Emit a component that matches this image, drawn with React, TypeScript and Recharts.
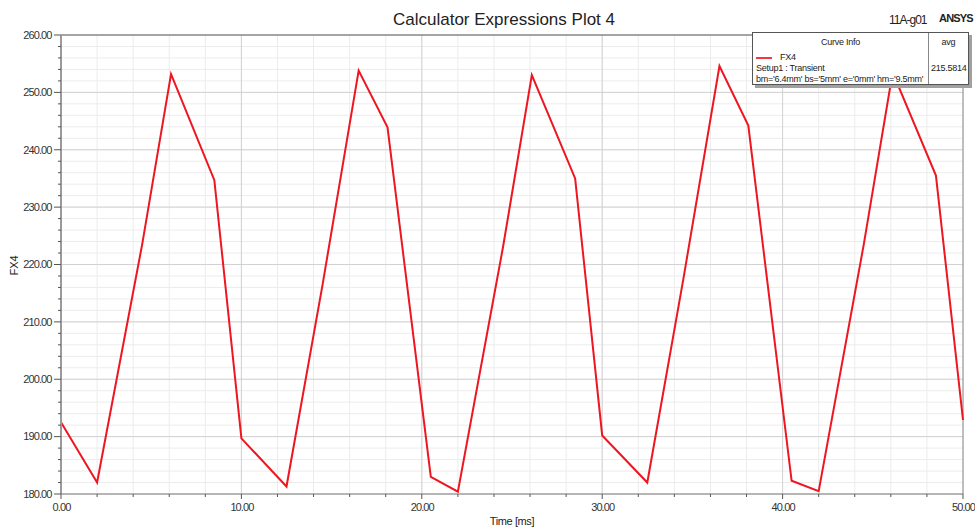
import { LineChart, Line, XAxis, YAxis, CartesianGrid } from 'recharts'

// Time samples [ms] and FX4 values
const timeMs = [
  0, 2.0, 4.5, 6.1, 8.5, 10.0, 12.5, 14.5, 16.5, 18.1, 20.5, 22.0, 24.5, 26.1,
  28.5, 30.0, 32.5, 34.5, 36.5, 38.1, 40.5, 42.0, 44.5, 46.1, 48.5, 50.0,
]
const fx4 = [
  192.5, 182.0, 223.5, 253.2, 234.7, 189.7, 181.3, 216.5, 253.8, 243.9, 183.0,
  180.4, 223.0, 253.0, 235.0, 190.2, 182.0, 217.5, 254.6, 244.2, 182.3, 180.5,
  223.5, 253.5, 235.5, 192.9,
]

const xTicks = [0, 2, 4, 6, 8, 10, 12, 14, 16, 18, 20, 22, 24, 26, 28, 30, 32, 34, 36, 38, 40, 42, 44, 46, 48, 50]
const yTicks = [
  180, 182, 184, 186, 188, 190, 192, 194, 196, 198, 200, 202, 204, 206, 208, 210,
  212, 214, 216, 218, 220, 222, 224, 226, 228, 230, 232, 234, 236, 238, 240, 242,
  244, 246, 248, 250, 252, 254, 256, 258, 260,
]
const xMajor = [10, 20, 30, 40]
const yMajor = [190, 200, 210, 220, 230, 240, 250]

const curveName = 'FX4'
const setupName = 'Setup1 : Transient'
const variation = "bm='6.4mm' bs='5mm' e='0mm' hm='9.5mm'"
const avgValue = '215.5814'

const data = timeMs.map((t, i) => ({ t, v: fx4[i] }))

const FONT = '"Liberation Sans", Arial, sans-serif'
const RED = '#ee1620'

function XTick(props: any) {
  const { x, y, payload } = props
  const major = payload.value % 10 === 0
  return (
    <g>
      <line x1={x} x2={x} y1={y} y2={y + (major ? 5 : 3)} stroke="#555" />
      {major && (
        <text
          x={x + 0.5}
          y={y + 17}
          textAnchor="middle"
          fontSize={11}
          fill="#333"
          fontFamily={FONT}
          style={{ letterSpacing: -0.9 }}
        >
          {payload.value.toFixed(2)}
        </text>
      )}
    </g>
  )
}

function YTick(props: any) {
  const { x, y, payload } = props
  const major = payload.value % 10 === 0
  return (
    <g>
      <line x1={x - (major ? 7 : 3)} x2={x} y1={y} y2={y} stroke="#555" />
      {major && (
        <text
          x={x - 9.5}
          y={y}
          dy="0.35em"
          textAnchor="end"
          fontSize={11}
          fill="#333"
          fontFamily={FONT}
          style={{ letterSpacing: -0.9 }}
        >
          {payload.value.toFixed(2)}
        </text>
      )}
    </g>
  )
}

export default function App() {
  return (
    <div
      style={{
        position: 'absolute',
        left: 0,
        top: 0,
        width: 975,
        height: 527,
        background: '#fff',
        fontFamily: FONT,
        color: '#222',
      }}
    >
      <LineChart width={975} height={527} data={data} margin={{ top: 35, right: 12, bottom: 3, left: 0 }}>
        <CartesianGrid stroke="#ececec" />
        <CartesianGrid stroke="#d2d2d2" horizontalValues={yMajor} verticalValues={xMajor} />
        <CartesianGrid stroke="#555" horizontalValues={[260]} vertical={false} />
        <CartesianGrid stroke="#888" verticalValues={[50]} horizontal={false} />
        <XAxis
          dataKey="t"
          type="number"
          domain={[0, 50]}
          ticks={xTicks}
          interval={0}
          height={30}
          tickSize={0}
          tickMargin={0}
          tickLine={false}
          axisLine={{ stroke: '#777' }}
          tick={<XTick />}
        />
        <YAxis
          type="number"
          domain={[180, 260]}
          ticks={yTicks}
          interval={0}
          width={61}
          tickSize={0}
          tickMargin={0}
          tickLine={false}
          axisLine={{ stroke: '#9a9a9a', strokeWidth: 2 }}
          tick={<YTick />}
        />
        <Line
          type="linear"
          dataKey="v"
          stroke={RED}
          strokeWidth={2}
          dot={false}
          isAnimationActive={false}
        />
      </LineChart>

      <div style={{ position: 'absolute', left: 0, width: 1008, top: 10, textAlign: 'center', fontSize: 17 }}>
        Calculator Expressions Plot 4
      </div>
      <div style={{ position: 'absolute', left: 889, top: 13, fontSize: 12, letterSpacing: -1 }}>11A-g01</div>
      <div style={{ position: 'absolute', left: 939, top: 12, fontSize: 11, fontWeight: 'bold', letterSpacing: -0.8 }}>
        ANSYS
      </div>

      <div
        style={{
          position: 'absolute',
          left: 2,
          top: 259,
          width: 24,
          fontSize: 11,
          lineHeight: '13px',
          transform: 'rotate(-90deg)',
          transformOrigin: 'center',
          textAlign: 'center',
        }}
      >
        FX4
      </div>
      <div
        style={{ position: 'absolute', left: 0, width: 1024, top: 515, textAlign: 'center', fontSize: 11, letterSpacing: -0.4 }}
      >
        Time [ms]
      </div>

      <div
        style={{
          position: 'absolute',
          left: 752,
          top: 32,
          width: 215,
          height: 51,
          background: '#fff',
          border: '1px solid #555',
          boxShadow: '3px 3px 0 #a0a0a0',
          fontSize: 9,
          lineHeight: '11px',
          letterSpacing: -0.25,
        }}
      >
        <div style={{ position: 'absolute', left: 175, top: 0, bottom: 0, borderLeft: '1px solid #888' }} />
        <div style={{ position: 'absolute', left: 0, width: 175, top: 4, textAlign: 'center' }}>Curve Info</div>
        <div style={{ position: 'absolute', left: 176, width: 39, top: 4, textAlign: 'center' }}>avg</div>
        <div style={{ position: 'absolute', left: 3, top: 24, width: 16, borderTop: `2px solid ${RED}`, opacity: 0.85 }} />
        <div style={{ position: 'absolute', left: 27, top: 19 }}>{curveName}</div>
        <div style={{ position: 'absolute', left: 3, top: 30 }}>{setupName}</div>
        <div style={{ position: 'absolute', left: 3, top: 41, whiteSpace: 'nowrap' }}>{variation}</div>
        <div style={{ position: 'absolute', left: 178, top: 30 }}>{avgValue}</div>
      </div>
    </div>
  )
}
